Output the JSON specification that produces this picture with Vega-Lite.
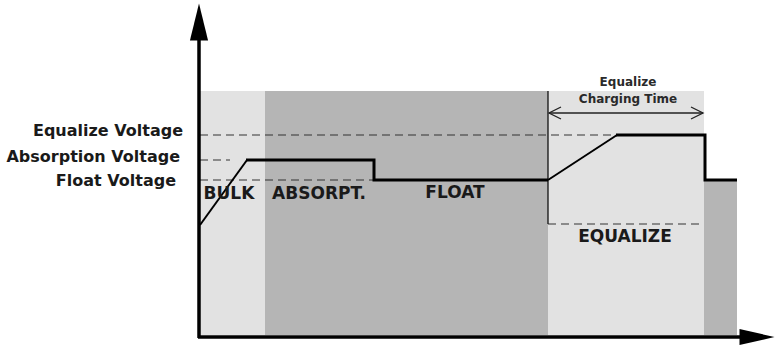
{
  "$schema": "https://vega.github.io/schema/vega-lite/v6.json",
  "width": 779,
  "height": 349,
  "autosize": {"type": "fit", "contains": "padding"},
  "padding": 0,
  "background": "white",
  "config": {"view": {"stroke": null}},
  "datasets": {
    "regions": [
      {"stage": "BULK", "t0": 200, "t1": 265, "top": 258, "bottom": 14, "shade": "light"},
      {"stage": "ABSORPT./FLOAT", "t0": 265, "t1": 548, "top": 258, "bottom": 14, "shade": "dark"},
      {"stage": "EQUALIZE", "t0": 548, "t1": 704, "top": 258, "bottom": 14, "shade": "light"},
      {"stage": "FLOAT after", "t0": 704, "t1": 737, "top": 169, "bottom": 14, "shade": "dark"}
    ],
    "levels": [
      {"name": "Equalize Voltage", "t0": 200, "t1": 704, "v": 214},
      {"name": "Absorption Voltage", "t0": 200, "t1": 230, "v": 189},
      {"name": "Float Voltage", "t0": 200, "t1": 548, "v": 169},
      {"name": "Equalize window", "t0": 548, "t1": 704, "v": 125}
    ],
    "marker": [
      {"name": "Equalize start", "t": 548, "v0": 125, "v1": 258}
    ],
    "curve": [
      {"part": "bulk", "kind": "ramp", "i": 0, "t": 200, "v": 124},
      {"part": "bulk", "kind": "ramp", "i": 1, "t": 247, "v": 189},
      {"part": "absorb-float", "kind": "hold", "i": 0, "t": 246, "v": 189},
      {"part": "absorb-float", "kind": "hold", "i": 1, "t": 374, "v": 189},
      {"part": "absorb-float", "kind": "hold", "i": 2, "t": 374, "v": 169},
      {"part": "absorb-float", "kind": "hold", "i": 3, "t": 548, "v": 169},
      {"part": "equalize", "kind": "ramp", "i": 0, "t": 548, "v": 169},
      {"part": "equalize", "kind": "ramp", "i": 1, "t": 617, "v": 214},
      {"part": "eq-float", "kind": "hold", "i": 0, "t": 616, "v": 214},
      {"part": "eq-float", "kind": "hold", "i": 1, "t": 705, "v": 214},
      {"part": "eq-float", "kind": "hold", "i": 2, "t": 705, "v": 169},
      {"part": "eq-float", "kind": "hold", "i": 3, "t": 737, "v": 169}
    ],
    "axes": [
      {"name": "voltage", "t0": 199, "t1": 199, "v0": 11, "v1": 309},
      {"name": "time", "t0": 198, "t1": 742, "v0": 12, "v1": 12}
    ],
    "arrowUp": [{"t": 199, "v": 327}],
    "arrowRight": [{"t": 757, "v": 12}],
    "span": [{"t0": 549, "t1": 703, "v": 236}],
    "chevrons": [
      {"side": "left", "i": 0, "t": 561, "v": 242},
      {"side": "left", "i": 1, "t": 549, "v": 236},
      {"side": "left", "i": 2, "t": 561, "v": 230},
      {"side": "right", "i": 0, "t": 691, "v": 242},
      {"side": "right", "i": 1, "t": 703, "v": 236},
      {"side": "right", "i": 2, "t": 691, "v": 230}
    ],
    "voltLabels": [
      {"label": "Equalize Voltage", "t": 183, "v": 218},
      {"label": "Absorption Voltage", "t": 180, "v": 192},
      {"label": "Float Voltage", "t": 176, "v": 168}
    ],
    "stageLabels": [
      {"label": "BULK", "t": 229, "v": 155},
      {"label": "ABSORPT.", "t": 319, "v": 155},
      {"label": "FLOAT", "t": 455, "v": 156},
      {"label": "EQUALIZE", "t": 625, "v": 112}
    ],
    "timeLabels": [
      {"label": "Equalize", "t": 628, "v": 267},
      {"label": "Charging Time", "t": 628, "v": 250}
    ]
  },
  "layer": [
    {
      "data": {"name": "regions"},
      "mark": {"type": "rect"},
      "encoding": {
        "x": {"field": "t0", "type": "quantitative", "scale": {"domain": [0, 779], "nice": false, "zero": false}, "axis": null},
        "x2": {"field": "t1"},
        "y": {"field": "top", "type": "quantitative", "scale": {"domain": [0, 349], "nice": false, "zero": false}, "axis": null},
        "y2": {"field": "bottom"},
        "color": {"field": "shade", "type": "nominal", "scale": {"domain": ["light", "dark"], "range": ["#e2e2e2", "#b5b5b5"]}, "legend": null}
      }
    },
    {
      "data": {"name": "levels"},
      "mark": {"type": "rule", "strokeDash": [8, 5], "color": "#333333", "strokeWidth": 1.2},
      "encoding": {
        "x": {"field": "t0", "type": "quantitative"},
        "x2": {"field": "t1"},
        "y": {"field": "v", "type": "quantitative"}
      }
    },
    {
      "data": {"name": "marker"},
      "mark": {"type": "rule", "color": "#111", "strokeWidth": 1.3},
      "encoding": {
        "x": {"field": "t", "type": "quantitative"},
        "y": {"field": "v0", "type": "quantitative"},
        "y2": {"field": "v1"}
      }
    },
    {
      "data": {"name": "curve"},
      "transform": [{"filter": "datum.kind === 'ramp'"}],
      "mark": {"type": "line", "color": "#000", "strokeWidth": 2},
      "encoding": {
        "x": {"field": "t", "type": "quantitative"},
        "y": {"field": "v", "type": "quantitative"},
        "detail": {"field": "part"},
        "order": {"field": "i"}
      }
    },
    {
      "data": {"name": "curve"},
      "transform": [{"filter": "datum.kind === 'hold'"}],
      "mark": {"type": "line", "color": "#000", "strokeWidth": 3},
      "encoding": {
        "x": {"field": "t", "type": "quantitative"},
        "y": {"field": "v", "type": "quantitative"},
        "detail": {"field": "part"},
        "order": {"field": "i"}
      }
    },
    {
      "data": {"name": "axes"},
      "mark": {"type": "rule", "color": "#000", "strokeWidth": 3.5},
      "encoding": {
        "x": {"field": "t0", "type": "quantitative"},
        "x2": {"field": "t1"},
        "y": {"field": "v0", "type": "quantitative"},
        "y2": {"field": "v1"}
      }
    },
    {
      "data": {"name": "arrowUp"},
      "mark": {"type": "point", "filled": true, "color": "#000", "opacity": 1, "size": 1369, "shape": "M-0.49,1L0,-1L0.49,1Z"},
      "encoding": {
        "x": {"field": "t", "type": "quantitative"},
        "y": {"field": "v", "type": "quantitative"}
      }
    },
    {
      "data": {"name": "arrowRight"},
      "mark": {"type": "point", "filled": true, "color": "#000", "opacity": 1, "size": 1225, "shape": "M-1,-0.46L1,0L-1,0.46Z"},
      "encoding": {
        "x": {"field": "t", "type": "quantitative"},
        "y": {"field": "v", "type": "quantitative"}
      }
    },
    {
      "data": {"name": "span"},
      "mark": {"type": "rule", "color": "#222", "strokeWidth": 1.3},
      "encoding": {
        "x": {"field": "t0", "type": "quantitative"},
        "x2": {"field": "t1"},
        "y": {"field": "v", "type": "quantitative"}
      }
    },
    {
      "data": {"name": "chevrons"},
      "mark": {"type": "line", "color": "#222", "strokeWidth": 1.3},
      "encoding": {
        "x": {"field": "t", "type": "quantitative"},
        "y": {"field": "v", "type": "quantitative"},
        "detail": {"field": "side"},
        "order": {"field": "i"}
      }
    },
    {
      "data": {"name": "voltLabels"},
      "mark": {"type": "text", "align": "right", "baseline": "middle", "font": "DejaVu Sans", "fontWeight": "bold", "fontSize": 16, "color": "#1a1a1a"},
      "encoding": {
        "x": {"field": "t", "type": "quantitative"},
        "y": {"field": "v", "type": "quantitative"},
        "text": {"field": "label"}
      }
    },
    {
      "data": {"name": "stageLabels"},
      "mark": {"type": "text", "align": "center", "baseline": "middle", "font": "DejaVu Sans", "fontWeight": "bold", "fontSize": 17, "color": "#1a1a1a"},
      "encoding": {
        "x": {"field": "t", "type": "quantitative"},
        "y": {"field": "v", "type": "quantitative"},
        "text": {"field": "label"}
      }
    },
    {
      "data": {"name": "timeLabels"},
      "mark": {"type": "text", "align": "center", "baseline": "middle", "font": "DejaVu Sans", "fontWeight": "bold", "fontSize": 12, "color": "#2a2a2a"},
      "encoding": {
        "x": {"field": "t", "type": "quantitative"},
        "y": {"field": "v", "type": "quantitative"},
        "text": {"field": "label"}
      }
    }
  ]
}
